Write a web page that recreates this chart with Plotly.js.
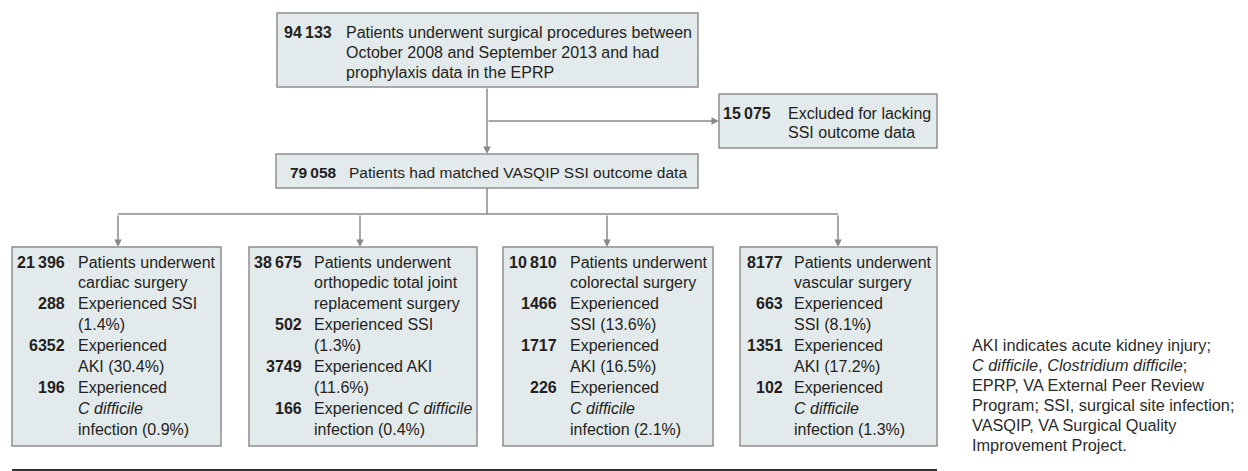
<!DOCTYPE html>
<html>
<head>
<meta charset="utf-8">
<script src="https://cdn.plot.ly/plotly-3.0.1.min.js"></script>
<style>html,body{margin:0;padding:0;background:#fff;}#chart{width:1248px;height:471px;}</style>
</head>
<body>
<div id="chart"></div>
<script>
// ---- Data ----
const screenedN = 94133;
const excludedN = 15075;
const matchedN = 79058;
const groupLabels = ['cardiac surgery', 'orthopedic total joint replacement surgery', 'colorectal surgery', 'vascular surgery'];
const groupN = [21396, 38675, 10810, 8177];
const ssiN = [288, 502, 1466, 663];
const ssiPct = ['1.4', '1.3', '13.6', '8.1'];
const akiN = [6352, 3749, 1717, 1351];
const akiPct = ['30.4', '11.6', '16.5', '17.2'];
const cdiffN = [196, 166, 226, 102];
const cdiffPct = ['0.9', '0.4', '2.1', '1.3'];
const footnoteLines = [
  'AKI indicates acute kidney injury;',
  '<i>C difficile</i>, <i>Clostridium difficile</i>;',
  'EPRP, VA External Peer Review',
  'Program; SSI, surgical site infection;',
  'VASQIP, VA Surgical Quality',
  'Improvement Project.'
];

// ---- Styles ----
const FONT = 'Liberation Sans, Arial, sans-serif';
const TXT = '#231f20';
const BOXFILL = '#e3eaec';
const BOXLINE = '#8e8e8e';
const CONN = '#8a8a8a';
const FS = 16;
const LH = 20.9;

function fmt(n) {
  const s = String(n);
  if (s.length >= 5) return s.slice(0, s.length - 3) + '\u2009' + s.slice(-3);
  return s;
}

const shapes = [];
const annotations = [];

function box(x0, y0, x1, y1) {
  shapes.push({type: 'rect', xref: 'x', yref: 'y', x0, y0, x1, y1,
    fillcolor: BOXFILL, line: {color: BOXLINE, width: 1.5}, layer: 'below'});
}
function line(x0, y0, x1, y1, color, width) {
  shapes.push({type: 'line', xref: 'x', yref: 'y', x0, y0, x1, y1,
    line: {color: color || CONN, width: width || 1.5}, layer: 'below'});
}
function arrow(tx, ty, hx, hy) {
  annotations.push({xref: 'x', yref: 'y', axref: 'x', ayref: 'y', x: hx, y: hy, ax: tx, ay: ty,
    text: '', showarrow: true, arrowhead: 2, arrowsize: 1, arrowwidth: 1.5, arrowcolor: CONN, standoff: 0, startstandoff: 0});
}
function txt(x, y, text, anchor, bold, size, color) {
  annotations.push({xref: 'x', yref: 'y', x, y, text: bold ? '<b>' + text + '</b>' : text,
    xanchor: anchor, yanchor: 'middle', showarrow: false,
    font: {family: FONT, size: size || FS, color: color || TXT}});
}
function rowBlock(numRight, textLeft, yStart, lh, rows, size) {
  let k = 0;
  rows.forEach(r => {
    txt(numRight, yStart + k * lh, fmt(r.n), 'right', true, size);
    r.lines.forEach(l => { txt(textLeft, yStart + k * lh, l, 'left', false, size); k++; });
  });
}

// ---- Top box ----
box(277, 13, 698, 87);
rowBlock(334, 344, 32, 20, [{n: screenedN, lines: [
  'Patients underwent surgical procedures between',
  'October 2008 and September 2013 and had',
  'prophylaxis data in the EPRP']}]);

// ---- Excluded box ----
box(719, 94, 937, 148);
rowBlock(773, 786, 113, 19.5, [{n: excludedN, lines: ['Excluded for lacking', 'SSI outcome data']}]);

// ---- Matched box ----
box(276, 154, 698, 188);
rowBlock(339, 347, 172, 20, [{n: matchedN, lines: ['Patients had matched VASQIP SSI outcome data']}], 15.5);

// ---- Connectors top ----
arrow(487, 87, 487, 154);
arrow(487, 121, 719, 121);
line(487, 188, 487, 214);

// ---- Group boxes ----
const boxX = [[12, 221], [249, 477], [503, 713], [740, 937]];
const numCol = [[67, 76], [304, 312], [559, 568], [785, 792]];
const arrowX = [118, 360, 607, 838];
line(arrowX[0], 214, arrowX[arrowX.length - 1], 214);

const groupLines = [
  [['Patients underwent', groupLabels[0]],
   ['Experienced SSI', '(' + ssiPct[0] + '%)'],
   ['Experienced', 'AKI (' + akiPct[0] + '%)'],
   ['Experienced', '<i>C difficile</i>', 'infection (' + cdiffPct[0] + '%)']],
  [['Patients underwent', 'orthopedic total joint', 'replacement surgery'],
   ['Experienced SSI', '(' + ssiPct[1] + '%)'],
   ['Experienced AKI', '(' + akiPct[1] + '%)'],
   ['Experienced <i>C difficile</i>', 'infection (' + cdiffPct[1] + '%)']],
  [['Patients underwent', groupLabels[2]],
   ['Experienced', 'SSI (' + ssiPct[2] + '%)'],
   ['Experienced', 'AKI (' + akiPct[2] + '%)'],
   ['Experienced', '<i>C difficile</i>', 'infection (' + cdiffPct[2] + '%)']],
  [['Patients underwent', groupLabels[3]],
   ['Experienced', 'SSI (' + ssiPct[3] + '%)'],
   ['Experienced', 'AKI (' + akiPct[3] + '%)'],
   ['Experienced', '<i>C difficile</i>', 'infection (' + cdiffPct[3] + '%)']]
];

for (let g = 0; g < groupN.length; g++) {
  box(boxX[g][0], 247, boxX[g][1], 446);
  arrow(arrowX[g], 214, arrowX[g], 247);
  const nums = [groupN[g], ssiN[g], akiN[g], cdiffN[g]];
  rowBlock(numCol[g][0], numCol[g][1], 262, LH,
    nums.map((n, i) => ({n, lines: groupLines[g][i]})));
}

// ---- Bottom rule ----
line(12, 470, 937, 470, '#333333', 2);

// ---- Footnote ----
footnoteLines.forEach((l, i) => txt(970, 345 + i * 20, l, 'left', false, 16.3, '#2b2b2b'));

const layout = {
  width: 1248, height: 471,
  margin: {l: 0, r: 0, t: 0, b: 0, pad: 0},
  paper_bgcolor: '#ffffff', plot_bgcolor: '#ffffff',
  xaxis: {range: [0, 1248], visible: false, fixedrange: true},
  yaxis: {range: [471, 0], visible: false, fixedrange: true},
  showlegend: false,
  shapes, annotations
};
Plotly.newPlot('chart', [], layout, {displayModeBar: false, staticPlot: true});
</script>
</body>
</html>
